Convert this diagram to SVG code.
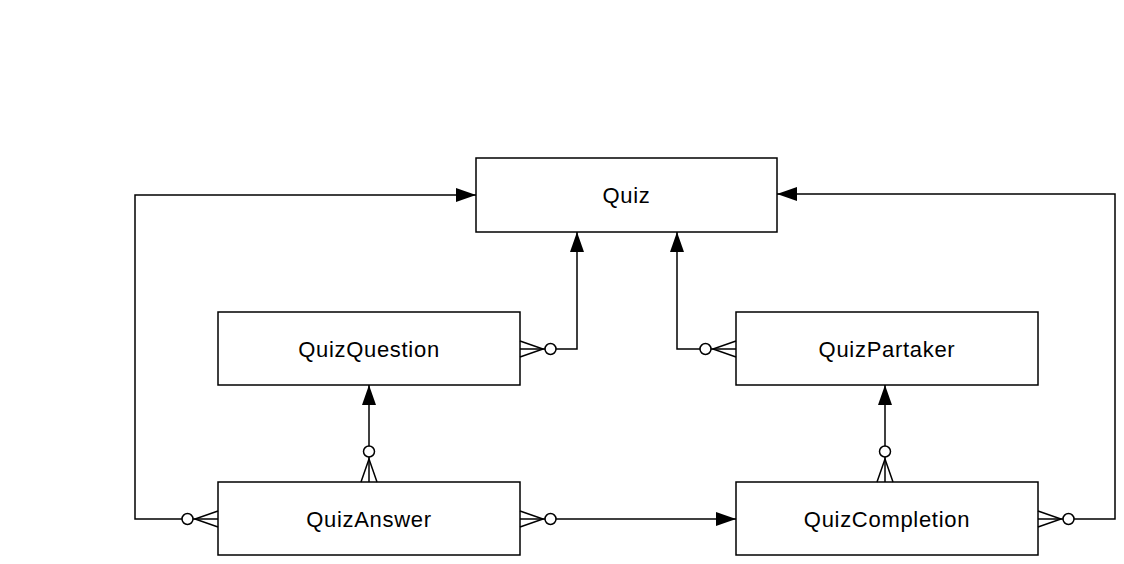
<svg xmlns="http://www.w3.org/2000/svg" width="1124" height="564" viewBox="0 0 1124 564">
<defs>
<style>
.box{fill:#fff;stroke:#000;stroke-width:1.5}
.lbl{font-family:"Liberation Sans",Arial,Helvetica,sans-serif;font-size:22px;letter-spacing:0.7px;text-anchor:middle;fill:#000}
.ln{fill:none;stroke:#000;stroke-width:1.5}
.ci{fill:#fff;stroke:#000;stroke-width:1.5}
</style>
<marker id="arr" viewBox="0 0 20 14" refX="20" refY="7" markerWidth="20" markerHeight="14" markerUnits="userSpaceOnUse" orient="auto">
<path d="M0,0 L20,7 L0,14 Z" fill="#000"/>
</marker>
</defs>
<rect width="1124" height="564" fill="#fff"/>
<g id="Quiz"><rect class="box" x="476" y="158" width="301" height="74"/><text class="lbl" x="626.5" y="203">Quiz</text></g>
<g id="QuizQuestion"><rect class="box" x="218" y="312" width="302" height="73"/><text class="lbl" x="369" y="357">QuizQuestion</text></g>
<g id="QuizPartaker"><rect class="box" x="736" y="312" width="302" height="73"/><text class="lbl" x="887" y="357">QuizPartaker</text></g>
<g id="QuizAnswer"><rect class="box" x="218" y="482" width="302" height="73"/><text class="lbl" x="369" y="527">QuizAnswer</text></g>
<g id="QuizCompletion"><rect class="box" x="736" y="482" width="302" height="73"/><text class="lbl" x="887" y="527">QuizCompletion</text></g>
<g id="connectors">
<!-- QuizQuestion -> Quiz -->
<path class="ln" d="M520,349 H577 V232" marker-end="url(#arr)"/>
<path class="ln" d="M520,341 L543,349 L520,357"/>
<circle class="ci" cx="550.5" cy="349" r="5.5"/>
<!-- QuizPartaker -> Quiz -->
<path class="ln" d="M736,349 H677 V232" marker-end="url(#arr)"/>
<path class="ln" d="M736,341 L713,349 L736,357"/>
<circle class="ci" cx="705.5" cy="349" r="5.5"/>
<!-- QuizAnswer -> QuizQuestion -->
<path class="ln" d="M369,482 V385" marker-end="url(#arr)"/>
<path class="ln" d="M361,482 L369,459 L377,482"/>
<circle class="ci" cx="369" cy="451.5" r="5.5"/>
<!-- QuizCompletion -> QuizPartaker -->
<path class="ln" d="M885,482 V385" marker-end="url(#arr)"/>
<path class="ln" d="M877,482 L885,459 L893,482"/>
<circle class="ci" cx="885" cy="451.5" r="5.5"/>
<!-- QuizAnswer -> Quiz -->
<path class="ln" d="M218,519 H135 V195 H476" marker-end="url(#arr)"/>
<path class="ln" d="M218,511 L195,519 L218,527"/>
<circle class="ci" cx="187.5" cy="519" r="5.5"/>
<!-- QuizAnswer -> QuizCompletion -->
<path class="ln" d="M520,519 H736" marker-end="url(#arr)"/>
<path class="ln" d="M520,511 L543,519 L520,527"/>
<circle class="ci" cx="550.5" cy="519" r="5.5"/>
<!-- QuizCompletion -> Quiz -->
<path class="ln" d="M1038,519 H1115 V194 H777" marker-end="url(#arr)"/>
<path class="ln" d="M1038,511 L1061,519 L1038,527"/>
<circle class="ci" cx="1068.5" cy="519" r="5.5"/>
</g>
</svg>
